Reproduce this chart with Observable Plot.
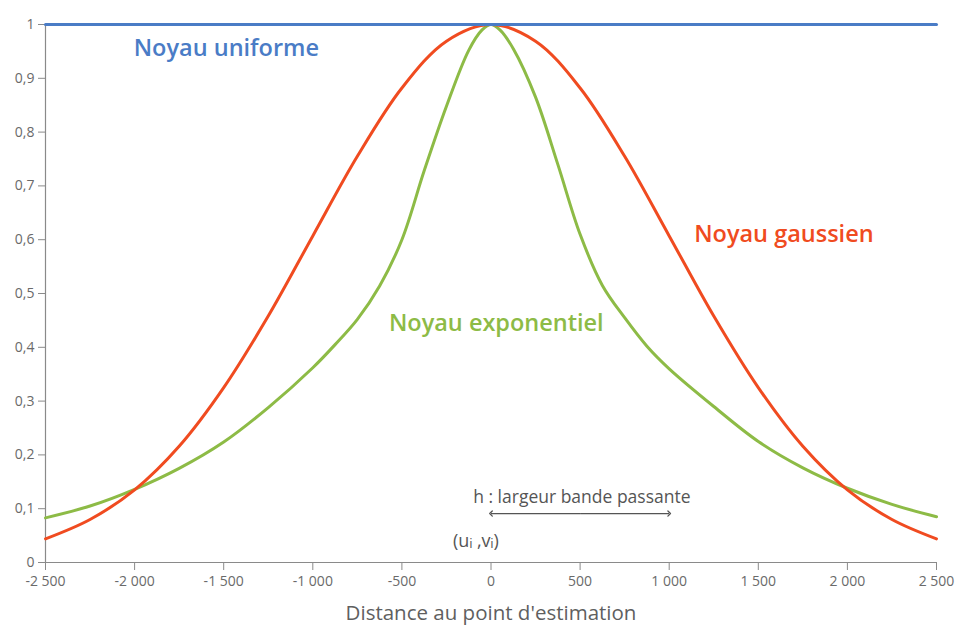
<!DOCTYPE html>
<html><head><meta charset="utf-8">
<script src="https://cdn.jsdelivr.net/npm/d3@7"></script>
<script src="https://cdn.jsdelivr.net/npm/@observablehq/plot@0.6"></script>
<style>body{margin:0;background:#fff;} #chart svg{font-family:"Open Sans",sans-serif;}</style>
</head><body><div id="chart"></div>
<script>
// Distances (m) and kernel weights
const uniformeDist = [-2500, 2500];
const uniforme = [1, 1];

const gaussienDist = [-2500, -2250, -2000, -1750, -1500, -1250, -1000, -750, -500, -250, 0, 250, 500, 750, 1000, 1250, 1500, 1750, 2000, 2250, 2500];
const gaussien = [0.044, 0.080, 0.135, 0.216, 0.325, 0.458, 0.607, 0.755, 0.882, 0.969, 1.0, 0.969, 0.882, 0.755, 0.607, 0.458, 0.325, 0.216, 0.135, 0.080, 0.044];

const exponentielDist = [-2500, -2250, -2000, -1750, -1500, -1250, -1000, -875, -750, -625, -500, -375, -250, -125, -50, 0, 50, 125, 250, 375, 500, 625, 750, 875, 1000, 1250, 1500, 1750, 2000, 2250, 2500];
const exponentiel = [0.083, 0.105, 0.136, 0.175, 0.224, 0.288, 0.362, 0.405, 0.452, 0.514, 0.600, 0.728, 0.848, 0.952, 0.99, 1.0, 0.99, 0.955, 0.865, 0.740, 0.610, 0.515, 0.455, 0.402, 0.360, 0.290, 0.225, 0.176, 0.138, 0.108, 0.085];

const xTicks = [-2500, -2000, -1500, -1000, -500, 0, 500, 1000, 1500, 2000, 2500];
const yTicks = [0, 0.1, 0.2, 0.3, 0.4, 0.5, 0.6, 0.7, 0.8, 0.9, 1];

const seriesLabels = ["Noyau uniforme", "Noyau gaussien", "Noyau exponentiel"];
const xLabel = "Distance au point d'estimation";
const bandLabel = "h : largeur bande passante";
const pointLabel = "(uᵢ ,vᵢ)";
const bandMid = 500;
const bandEnds = [0, 1000];

const colors = {uniforme: "#4a7cc6", gaussien: "#f04b20", exponentiel: "#8dbb46"};

const toRows = (xs, ys) => xs.map((x, i) => ({x, y: ys[i]}));
const fr = d3.formatLocale({decimal: ",", thousands: "\u00a0", grouping: [3], currency: ["", " €"], minus: "-"});
const fmtX = fr.format(",d");
const fmtY = fr.format("~g");

const chart = Plot.plot({
  width: 958,
  height: 630,
  marginLeft: 45,
  marginRight: 22,
  marginTop: 24,
  marginBottom: 68,
  style: {fontFamily: "'Open Sans', sans-serif", background: "#fff"},
  x: {domain: [-2500, 2500]},
  y: {domain: [0, 1]},
  marks: [
    Plot.axisX({ticks: xTicks, tickFormat: fmtX, tickSize: 8, tickPadding: 6, stroke: "#8a8a8a", fill: "#6a6a6a", fontSize: 14, label: null}),
    Plot.axisY({ticks: yTicks, tickFormat: fmtY, tickSize: 7, tickPadding: 4, stroke: "#8a8a8a", fill: "#6a6a6a", fontSize: 14, label: null}),
    Plot.ruleY([0], {stroke: "#8a8a8a", strokeWidth: 1.2}),
    Plot.ruleX([-2500], {y1: 0, y2: 1, stroke: "#8a8a8a", strokeWidth: 1.2}),
    Plot.line(toRows(exponentielDist, exponentiel), {x: "x", y: "y", stroke: colors.exponentiel, strokeWidth: 3, curve: "catmull-rom"}),
    Plot.line(toRows(gaussienDist, gaussien), {x: "x", y: "y", stroke: colors.gaussien, strokeWidth: 3, curve: "catmull-rom"}),
    Plot.line(toRows(uniformeDist, uniforme), {x: "x", y: "y", stroke: colors.uniforme, strokeWidth: 3}),
    Plot.text([seriesLabels[0]], {x: -2005, y: 0.955, text: d => d, textAnchor: "start", fill: colors.uniforme, fontSize: 23.5, fontWeight: 600}),
    Plot.text([seriesLabels[1]], {x: 1140, y: 0.61, text: d => d, textAnchor: "start", fill: colors.gaussien, fontSize: 23.5, fontWeight: 600}),
    Plot.text([seriesLabels[2]], {x: -573, y: 0.444, text: d => d, textAnchor: "start", fill: colors.exponentiel, fontSize: 23.5, fontWeight: 600}),
    Plot.text([bandLabel], {x: -100, y: 0.121, text: d => d, textAnchor: "start", fill: "#555", fontSize: 17.5}),
    Plot.link(bandEnds, {x1: () => bandMid, x2: d => d, y1: 0.091, y2: 0.091, stroke: "#555", strokeWidth: 1.3, markerEnd: "arrow"}),
    Plot.text([pointLabel], {x: -213, y: 0.039, text: d => d, textAnchor: "start", fill: "#555", fontSize: 18}),
    Plot.text([xLabel], {frameAnchor: "bottom", dy: 57, text: d => d, fill: "#5f5f5f", fontSize: 20.5})
  ]
});
document.getElementById("chart").appendChild(chart);
</script></body></html>
